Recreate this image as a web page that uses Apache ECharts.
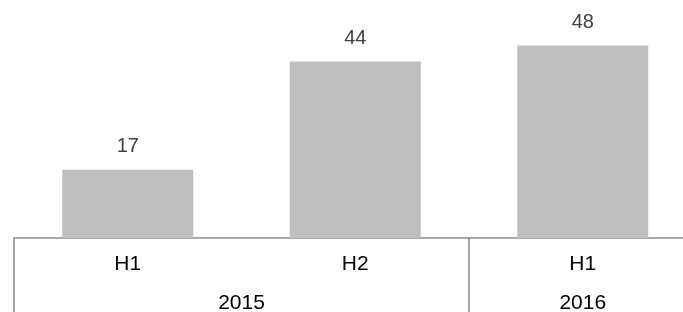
<!DOCTYPE html>
<html>
<head>
<meta charset="utf-8">
<script src="https://cdn.jsdelivr.net/npm/echarts@6/dist/echarts.min.js"></script>
</head>
<body style="margin:0;overflow:hidden">
<!-- the chart runs a bit past the right edge of the window, like the source -->
<div id="main" style="width:697px;height:312px"></div>
<script>
// data
var halves = ['H1', 'H2', 'H1'];
var values = [17, 44, 48];
var years = ['2015', '2016'];
var yearSpans = [2, 1]; // how many halves each year covers

// year label positions (midpoints of each span, in category units)
var yearMids = [];
var acc = 0;
for (var i = 0; i < yearSpans.length; i++) {
    yearMids.push(acc + yearSpans[i] / 2);
    acc += yearSpans[i];
}
// category boundaries where a year group starts
var groupStarts = [0];
acc = 0;
for (var j = 0; j < yearSpans.length - 1; j++) {
    acc += yearSpans[j];
    groupStarts.push(acc);
}

var chart = echarts.init(document.getElementById('main'));
var font = 'Liberation Sans, Arial, sans-serif';
chart.setOption({
    animation: false,
    grid: { left: 14, top: 0, right: 0.5, height: 238, containLabel: false, outerBoundsMode: 'none' },
    xAxis: [{
        type: 'category',
        data: halves,
        axisLine: { lineStyle: { color: '#8c8c8c', width: 1.5 } },
        axisTick: {
            show: true,
            length: 80,
            lineStyle: { color: '#8c8c8c', width: 1.5 },
            interval: function (idx) { return groupStarts.indexOf(idx) >= 0; }
        },
        axisLabel: { color: '#000', fontSize: 21, fontFamily: font, margin: 16, interval: 0 }
    }, {
        type: 'value',
        min: 0,
        max: halves.length,
        position: 'bottom',
        axisLine: { show: false },
        axisTick: { show: false },
        splitLine: { show: false },
        axisLabel: {
            color: '#000', fontSize: 21, fontFamily: font, margin: 55,
            customValues: yearMids,
            formatter: function (v) {
                var k = yearMids.indexOf(v);
                return k >= 0 ? years[k] : '';
            }
        }
    }],
    yAxis: {
        type: 'value', min: 0, max: 59.35,
        show: false
    },
    series: [{
        type: 'bar',
        data: values,
        barWidth: '57.6%',
        itemStyle: { color: '#bfbfbf' },
        label: {
            show: true, position: 'top', distance: 13,
            color: '#404040', fontSize: 20, fontFamily: font
        }
    }]
});
</script>
</body>
</html>
